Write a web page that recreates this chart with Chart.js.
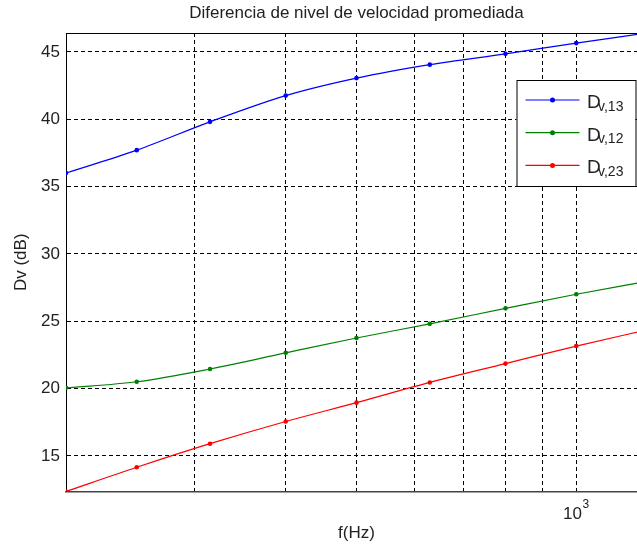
<!DOCTYPE html>
<html>
<head>
<meta charset="utf-8">
<script src="https://cdn.jsdelivr.net/npm/chart.js@4"></script>
<style>
  body { margin: 0; background: #fff; overflow: hidden; }
  #wrap { width: 637px; height: 550px; overflow: hidden; }
</style>
</head>
<body>
<div id="wrap"><canvas id="dvChart" width="660" height="550"></canvas></div>
<script>
// 1/3 octave bands (Hz) and level differences (dB)
const freqs = [200, 250, 315, 400, 500, 630, 800, 1000, 1250];
const dv13 = [36.0, 37.7, 39.8, 41.75, 43.05, 44.05, 44.85, 45.65, 46.4];
const dv12 = [20.05, 20.5, 21.45, 22.65, 23.75, 24.8, 25.95, 27.0, 27.95];
const dv23 = [12.35, 14.15, 15.9, 17.55, 18.95, 20.45, 21.85, 23.15, 24.35];

const yTicks = [15, 20, 25, 30, 35, 40, 45];
const xGrid = [200, 300, 400, 500, 600, 700, 800, 900, 1000];
// labelled decades on the log axis: base and exponent
const xDecades = [1000];
const xDecadeBase = ['10'];
const xDecadeExp = ['3'];

const seriesSubs = ['v,13', 'v,12', 'v,23'];
const seriesColors = ['#0000ff', '#008000', '#ff0000'];

const chartTitle = 'Diferencia de nivel de velocidad promediada';

const FONT = 'Liberation Sans, Arial, sans-serif';
const TEXT = '#222';

// Build one dataset per series
function makeSet(values, i) {
  return {
    label: 'D' + seriesSubs[i],
    data: freqs.map((f, k) => ({ x: f, y: values[k] })),
    borderColor: seriesColors[i],
    backgroundColor: seriesColors[i],
    borderWidth: 1.2,
    pointRadius: 2.3,
    pointBorderWidth: 0,
    pointBackgroundColor: seriesColors[i],
    cubicInterpolationMode: 'monotone'
  };
}

// Title over the axes, top frame line, 10^n labels and the legend
const framePlugin = {
  id: 'frame',
  afterDraw(chart) {
    const { ctx, chartArea: ca } = chart;
    ctx.save();

    // title centred on the axes box
    ctx.fillStyle = TEXT;
    ctx.font = '17px ' + FONT;
    ctx.textAlign = 'center';
    ctx.textBaseline = 'middle';
    ctx.fillText(chartTitle, (ca.left + ca.right) / 2, 13.5);

    // top frame
    ctx.strokeStyle = '#000';
    ctx.lineWidth = 1;
    ctx.beginPath();
    ctx.moveTo(ca.left, ca.top + 0.5);
    ctx.lineTo(ca.right, ca.top + 0.5);
    ctx.stroke();

    // decade labels like 10^3
    const xs = chart.scales.x;
    ctx.textBaseline = 'alphabetic';
    xDecades.forEach((v, i) => {
      const px = xs.getPixelForValue(v) + 5.7;
      ctx.font = '17px ' + FONT;
      ctx.textAlign = 'right';
      ctx.fillText(xDecadeBase[i], px, ca.bottom + 27.5);
      ctx.font = '12px ' + FONT;
      ctx.textAlign = 'left';
      ctx.fillText(xDecadeExp[i], px + 0.5, ca.bottom + 16);
    });

    // legend box
    const bx = ca.right - 130.5, by = ca.top + 47, bw = 119, bh = 106;
    ctx.fillStyle = '#fff';
    ctx.fillRect(bx, by, bw, bh);
    ctx.strokeStyle = '#000';
    ctx.strokeRect(bx + 0.5, by + 0.5, bw, bh);

    chart.data.datasets.forEach((ds, i) => {
      const ry = by + 20 + i * 32.7;
      ctx.strokeStyle = ds.borderColor;
      ctx.lineWidth = 1.2;
      ctx.beginPath();
      ctx.moveTo(bx + 9, ry);
      ctx.lineTo(bx + 63, ry);
      ctx.stroke();
      ctx.fillStyle = ds.borderColor;
      ctx.beginPath();
      ctx.arc(bx + 36, ry, 2.5, 0, Math.PI * 2);
      ctx.fill();

      ctx.fillStyle = TEXT;
      ctx.textAlign = 'left';
      ctx.font = '19px ' + FONT;
      ctx.fillText('D', bx + 70.5, ry + 8);
      ctx.font = '14px ' + FONT;
      ctx.fillText(seriesSubs[i], bx + 81.5, ry + 10.5);
    });
    ctx.restore();
  }
};

new Chart(document.getElementById('dvChart'), {
  type: 'line',
  data: { datasets: [makeSet(dv13, 0), makeSet(dv12, 1), makeSet(dv23, 2)] },
  options: {
    responsive: false,
    animation: false,
    layout: { padding: { right: 13, left: 0, top: 33, bottom: 0 } },
    plugins: {
      legend: { display: false },
      tooltip: { enabled: false },
      title: { display: false }
    },
    scales: {
      x: {
        type: 'logarithmic',
        min: freqs[0],
        max: freqs[freqs.length - 1],
        afterBuildTicks: s => { s.ticks = xGrid.map(v => ({ value: v })); },
        afterFit: s => { s.height = 58.5; },
        ticks: {
          autoSkip: false,
          maxRotation: 0,
          callback: () => ''
        },
        grid: { color: '#000', lineWidth: 1, drawTicks: false },
        border: { color: '#444', width: 1.5, dash: [4, 3] },
        title: {
          display: true,
          text: 'f(Hz)',
          color: TEXT,
          font: { family: FONT, size: 17 },
          padding: { top: 0, bottom: 6.8 }
        }
      },
      y: {
        min: Math.min(...dv23),
        max: Math.max(...dv13),
        afterBuildTicks: s => { s.ticks = yTicks.map(v => ({ value: v })); },
        afterFit: s => { s.width = 66; },
        ticks: {
          padding: 6,
          color: TEXT,
          font: { family: FONT, size: 17 }
        },
        grid: { color: '#000', lineWidth: 1, drawTicks: false },
        border: { color: '#000', width: 1, dash: [4, 3] },
        title: {
          display: true,
          text: 'Dv (dB)',
          color: TEXT,
          font: { family: FONT, size: 17 },
          padding: { top: 10.8, bottom: 0 }
        }
      }
    }
  },
  plugins: [framePlugin]
});
</script>
</body>
</html>
